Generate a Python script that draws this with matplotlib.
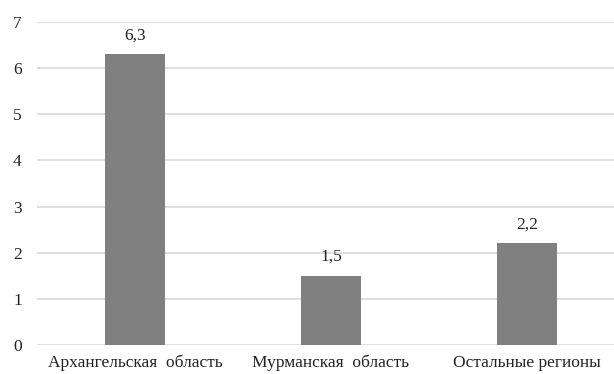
import matplotlib
matplotlib.use("Agg")
import matplotlib.pyplot as plt

categories = ["Архангельская  область", "Мурманская  область", "Остальные регионы"]
values = [6.3, 1.5, 2.2]
value_labels = ["6,3", "1,5", "2,2"]
yticks = [0, 1, 2, 3, 4, 5, 6, 7]

plt.rcParams["font.family"] = ["Liberation Serif", "DejaVu Serif"]

fig = plt.figure(figsize=(6.14, 3.74), dpi=100)
ax = fig.add_axes([37 / 614, 1 - 345 / 374, 1 - 37 / 614, (345 - 22) / 374])

x = range(len(categories))
bars = ax.bar(x, values, width=0.31, color="#808080", zorder=3)
for b, lab in zip(bars, value_labels):
    ax.annotate(lab, (b.get_x() + b.get_width() / 2, b.get_height()),
                xytext=(0, 8), textcoords="offset points",
                ha="center", va="bottom", fontsize=12.5, color="#222222")

ax.set_xlim(-0.5, (614 - 37) / 196 - 0.5)
ax.set_ylim(0, 7)
ax.set_yticks(yticks)
ax.set_yticklabels([str(t) for t in yticks])
ax.set_xticks(list(x))
ax.set_xticklabels(categories)
ax.tick_params(length=0, labelsize=12.5, colors="#222222")
ax.tick_params(axis="y", pad=11)
ax.tick_params(axis="x", pad=7)
ax.grid(axis="y", color="#d9d9d9", linewidth=1.2, zorder=0)
for s in ax.spines.values():
    s.set_visible(False)

fig.savefig("out.png", dpi=100)
